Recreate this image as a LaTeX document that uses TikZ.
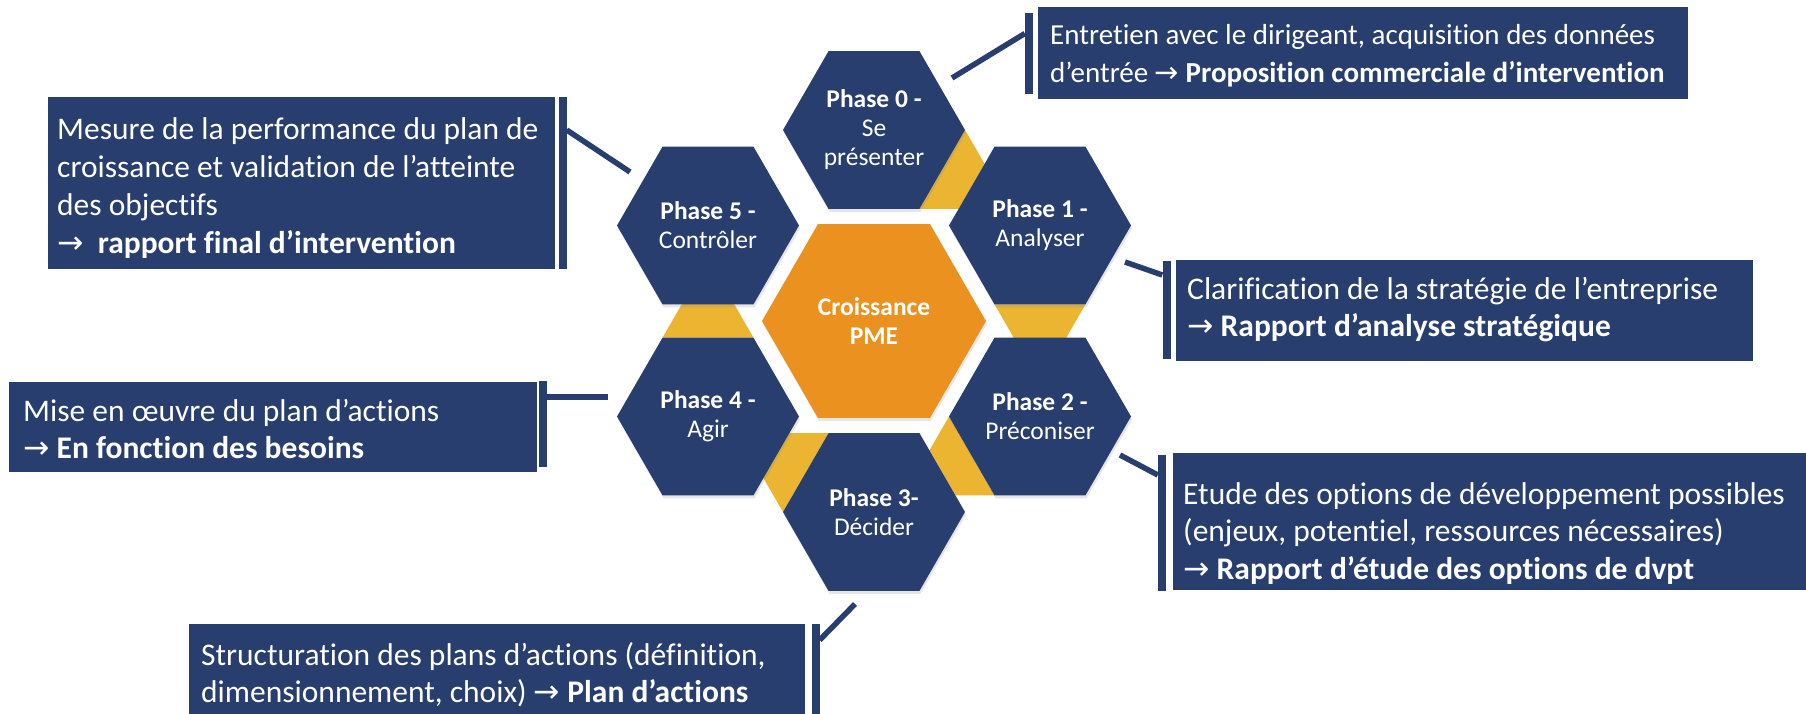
\documentclass[tikz,border=0pt]{standalone}
\usepackage{fontspec}
\setmainfont{Carlito}[Ligatures=NoCommon]
\newfontfamily\arrowfont{DejaVu Sans}
\usetikzlibrary{shapes.geometric,shadows}
\definecolor{nav}{RGB}{40, 62, 111}
\definecolor{ora}{RGB}{234, 145, 32}
\definecolor{gol}{RGB}{236, 181, 49}
\newcommand{\ra}{{\arrowfont\mdseries →}}

\tikzset{
  hexa/.style={regular polygon, regular polygon sides=6, minimum size=182pt, inner sep=0pt,
    fill=nav, text=white, align=center, font=\fontsize{25.5}{29}\selectfont,
    drop shadow={shadow xshift=1pt, shadow yshift=-3pt, opacity=.2}},
  boxa/.style={rectangle, fill=nav, inner sep=0pt},
  bara/.style={rectangle, fill=nav, inner sep=0pt, minimum width=8pt},
  txta/.style={anchor=base west, inner sep=0pt, text=white, font=\fontsize{31.5}{37.7}\selectfont},
  lead/.style={draw=nav, line width=5.5pt}
}

\begin{document}
\begin{tikzpicture}[x=1pt, y=-1pt]
      \useasboundingbox (0, 0) rectangle (1806, 714);
      \coordinate (cc) at (874, 321);
      \coordinate (c0) at (874, 130);
      \coordinate (c1) at (1040, 225.5);
      \coordinate (c2) at (1040, 416.5);
      \coordinate (c3) at (874, 512);
      \coordinate (c4) at (708, 416.5);
      \coordinate (c5) at (708, 225.5);
      % gold links between the phases
      \fill[gol] (c0) +(60:91) -- +(0:91) -- +(17:115.6) -- +(43:115.6) -- cycle;
      \fill[gol] (c1) +(120:91) -- +(60:91) -- +(77:115.6) -- +(103:115.6) -- cycle;
      \fill[gol] (c2) +(180:91) -- +(120:91) -- +(137:115.6) -- +(163:115.6) -- cycle;
      \fill[gol] (c3) +(240:91) -- +(180:91) -- +(197:115.6) -- +(223:115.6) -- cycle;
      \fill[gol] (c4) +(300:91) -- +(240:91) -- +(257:115.6) -- +(283:115.6) -- cycle;
      % hexagons
      \node[hexa, fill=ora, minimum size=224pt, font=\fontsize{25.5}{29}\selectfont\bfseries] (pme) at (cc) {Croissance\\PME};
      \node[hexa] (p0) at (c0) {\textbf{Phase 0 -}\\Se\\présenter};
      \node[hexa] (p1) at (c1) {\textbf{Phase 1 -}\\Analyser};
      \node[hexa] (p2) at (c2) {\textbf{Phase 2 -}\\Préconiser};
      \node[hexa] (p3) at (c3) {\textbf{Phase 3-}\\Décider};
      \node[hexa] (p4) at (c4) {\textbf{Phase 4 -}\\Agir};
      \node[hexa] (p5) at (c5) {\textbf{Phase 5 -}\\Contrôler};
      % boxes and bars
      \node[boxa, minimum width=650pt, minimum height=92pt] (box0) at (1363, 53) {};
      \node[boxa, minimum width=577pt, minimum height=101pt] (box1) at (1464.5, 310.5) {};
      \node[boxa, minimum width=640pt, minimum height=137pt] (box2) at (1493, 521.5) {};
      \node[boxa, minimum width=616pt, minimum height=107pt] (box3) at (497, 677.5) {};
      \node[boxa, minimum width=528pt, minimum height=90pt] (box4) at (273, 427) {};
      \node[boxa, minimum width=507pt, minimum height=172pt] (box5) at (301.5, 183) {};
      \node[bara, minimum height=81pt] (bar0) at (1029, 53.5) {};
      \node[bara, minimum height=98pt] (bar1) at (1166.5, 310) {};
      \node[bara, minimum height=136pt] (bar2) at (1162, 523) {};
      \node[bara, minimum height=96pt] (bar3) at (815.5, 672) {};
      \node[bara, minimum height=86pt] (bar4) at (542.5, 424) {};
      \node[bara, minimum height=172pt] (bar5) at (562.5, 183) {};
      % leaders
      \coordinate (e0) at (952, 78);
      \coordinate (e1) at (1125, 262);
      \coordinate (e2) at (1120, 455);
      \coordinate (e3) at (855, 604);
      \coordinate (e4) at (608, 397);
      \coordinate (e5) at (630, 172);
      \draw[lead] (e0)--([yshift=20pt]bar0.west);
      \draw[lead] (e1)--([yshift=35pt]bar1.west);
      \draw[lead] (e2)--([yshift=48pt]bar2.west);
      \draw[lead] (e3)--([yshift=32pt]bar3.east);
      \draw[lead] (e4)--([yshift=27pt]bar4.east);
      \draw[lead] (e5)--([yshift=53pt]bar5.east);
      % texts
      \node[txta, font=\fontsize{29}{37.7}\selectfont] (txt0) at (1050, 45) {\parbox[t]{660pt}{Entretien avec le dirigeant, acquisition des données\\d’entrée \ra{} \textbf{Proposition commerciale d’intervention}}};
      \node[txta] (txt1) at (1187, 299) {\parbox[t]{600pt}{Clarification de la stratégie de l’entreprise\\\ra{} \textbf{Rapport d’analyse stratégique}}};
      \node[txta] (txt2) at (1183, 504) {\parbox[t]{640pt}{Etude des options de développement possibles\\(enjeux, potentiel, ressources nécessaires)\\\ra{} \textbf{Rapport d’étude des options de dvpt}}};
      \node[txta] (txt3) at (201, 665) {\parbox[t]{640pt}{Structuration des plans d’actions (définition,\\dimensionnement, choix) \ra{} \textbf{Plan d’actions}}};
      \node[txta] (txt4) at (23, 421) {\parbox[t]{540pt}{Mise en œuvre du plan d’actions\\\ra{} \textbf{En fonction des besoins}}};
      \node[txta] (txt5) at (57, 140) {\parbox[t]{520pt}{Mesure de la performance du plan de\\croissance et validation de l’atteinte\\des objectifs\\\ra\ \ \textbf{rapport final d’intervention}}};
    \end{tikzpicture}
\end{document}
